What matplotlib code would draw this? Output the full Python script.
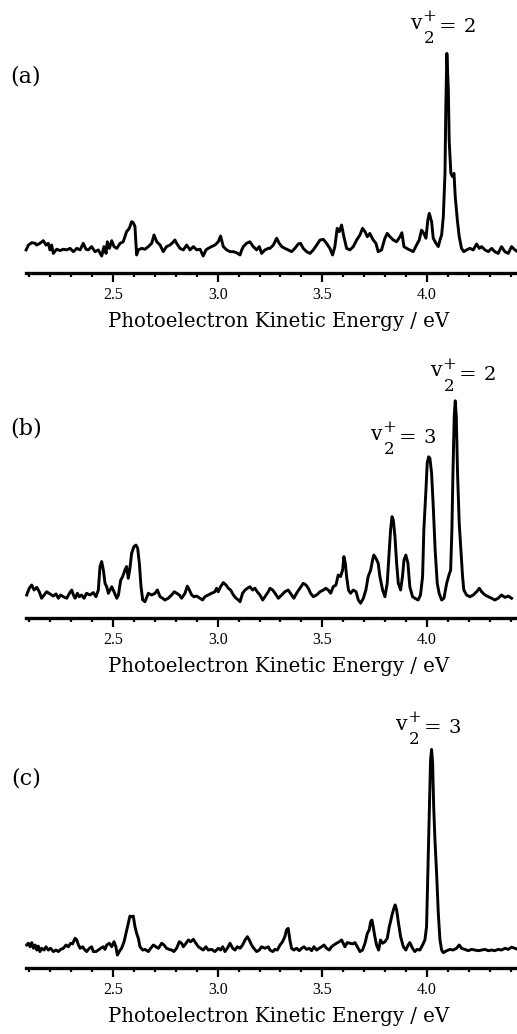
import matplotlib
matplotlib.use("Agg")
import matplotlib.pyplot as plt
from matplotlib.ticker import MultipleLocator

plt.rcParams['font.family'] = ['Liberation Serif', 'DejaVu Serif']

# spectrum (a) - energy (eV) and intensity (arb., peak = 1)
energy_a = [2.085, 2.096, 2.112, 2.128, 2.136, 2.151, 2.167, 2.180, 2.191, 2.199,
            2.207, 2.215, 2.231, 2.247, 2.263, 2.279, 2.295, 2.311, 2.327, 2.343,
            2.358, 2.371, 2.382, 2.398, 2.414, 2.430, 2.446, 2.457, 2.467, 2.473,
            2.483, 2.494, 2.505, 2.518, 2.534, 2.549, 2.557, 2.565, 2.578, 2.589,
            2.597, 2.605, 2.613, 2.621, 2.637, 2.653, 2.669, 2.685, 2.696, 2.709,
            2.725, 2.740, 2.756, 2.772, 2.785, 2.796, 2.804, 2.820, 2.836, 2.852,
            2.868, 2.884, 2.900, 2.916, 2.931, 2.944, 2.955, 2.971, 2.987, 3.003,
            3.014, 3.027, 3.043, 3.059, 3.075, 3.091, 3.107, 3.115, 3.123, 3.138,
            3.154, 3.170, 3.186, 3.199, 3.210, 3.226, 3.242,
            3.250, 3.266, 3.282, 3.294, 3.306, 3.321, 3.337, 3.353, 3.369, 3.385,
            3.396, 3.409, 3.425, 3.441, 3.457, 3.473, 3.489, 3.505, 3.520, 3.536,
            3.549, 3.560, 3.571, 3.581, 3.592, 3.603, 3.616, 3.632, 3.648, 3.664,
            3.680, 3.692, 3.704, 3.715, 3.727, 3.743, 3.756, 3.767, 3.783, 3.799,
            3.810, 3.823, 3.839, 3.855, 3.871, 3.880, 3.890, 3.903, 3.918, 3.934,
            3.950, 3.963, 3.974, 3.985, 3.995, 4.004, 4.011, 4.022, 4.030, 4.043,
            4.054, 4.062, 4.070, 4.078, 4.086, 4.090, 4.095, 4.102, 4.106, 4.114,
            4.122, 4.129, 4.135, 4.145, 4.154, 4.165, 4.176, 4.189, 4.205, 4.221,
            4.237, 4.250, 4.261, 4.277, 4.293, 4.309, 4.324, 4.340, 4.356, 4.372,
            4.388, 4.404, 4.420, 4.433]
signal_a = [0.105, 0.127, 0.138, 0.135, 0.127, 0.135, 0.147, 0.127, 0.135, 0.105,
            0.127, 0.089, 0.108, 0.102, 0.108, 0.105, 0.112, 0.097, 0.112, 0.105,
            0.135, 0.108, 0.105, 0.120, 0.097, 0.105, 0.077, 0.120, 0.089, 0.142,
            0.112, 0.147, 0.120, 0.112, 0.135, 0.142, 0.165, 0.188, 0.203, 0.233,
            0.229, 0.211, 0.082, 0.105, 0.112, 0.108, 0.120, 0.135, 0.173, 0.142,
            0.127, 0.097, 0.120, 0.127, 0.138, 0.150, 0.135, 0.112, 0.105, 0.127,
            0.105, 0.120, 0.105, 0.108, 0.077, 0.105, 0.112, 0.120, 0.127, 0.142,
            0.168, 0.120, 0.105, 0.097, 0.097, 0.092, 0.082, 0.105, 0.120, 0.135,
            0.142, 0.120, 0.105, 0.120, 0.089, 0.105, 0.112,
            0.112, 0.127, 0.158, 0.135, 0.120, 0.112, 0.105, 0.097, 0.112, 0.132,
            0.135, 0.112, 0.097, 0.089, 0.105, 0.127, 0.150, 0.153, 0.135, 0.112,
            0.082, 0.120, 0.203, 0.188, 0.218, 0.165, 0.112, 0.105, 0.120, 0.150,
            0.173, 0.203, 0.188, 0.165, 0.180, 0.150, 0.135, 0.097, 0.105, 0.158,
            0.180, 0.165, 0.150, 0.142, 0.165, 0.183, 0.120, 0.112, 0.105, 0.097,
            0.127, 0.150, 0.195, 0.180, 0.158, 0.241, 0.271, 0.233, 0.158, 0.135,
            0.120, 0.150, 0.173, 0.256, 0.453, 0.756, 0.998, 0.832, 0.604, 0.453,
            0.438, 0.453, 0.347, 0.241, 0.165, 0.112, 0.097, 0.105, 0.112, 0.105,
            0.132, 0.112, 0.120, 0.105, 0.097, 0.112, 0.097, 0.089, 0.120, 0.097,
            0.089, 0.120, 0.105, 0.097]

# spectrum (b)
energy_b = [2.088, 2.100, 2.112, 2.123, 2.136, 2.148, 2.159, 2.171, 2.183, 2.199,
            2.215, 2.228, 2.239, 2.250, 2.263, 2.279, 2.292, 2.303, 2.311, 2.319,
            2.330, 2.339, 2.350, 2.362, 2.374, 2.390, 2.406, 2.419, 2.430, 2.438,
            2.446, 2.454, 2.462, 2.470, 2.478, 2.486, 2.494, 2.505, 2.518, 2.526,
            2.537, 2.546, 2.557, 2.565, 2.573, 2.581, 2.589, 2.600, 2.610, 2.618,
            2.626, 2.634, 2.642, 2.653, 2.669, 2.685, 2.701, 2.712, 2.725, 2.737,
            2.748, 2.764, 2.780, 2.793, 2.804, 2.817, 2.828, 2.844, 2.855, 2.865,
            2.876, 2.887, 2.900, 2.916, 2.928, 2.939, 2.955, 2.971, 2.987, 2.995,
            3.003, 3.014, 3.027, 3.040, 3.051, 3.062, 3.075, 3.088, 3.099, 3.107,
            3.119, 3.131, 3.142, 3.154, 3.167, 3.178, 3.189, 3.202, 3.215, 3.226,
            3.242,
            3.250, 3.263, 3.274, 3.290, 3.306, 3.321, 3.337, 3.353, 3.364, 3.377,
            3.393, 3.409, 3.422, 3.433, 3.444, 3.457, 3.473, 3.489, 3.505, 3.517,
            3.528, 3.540, 3.552, 3.565, 3.576, 3.587, 3.597, 3.603, 3.610, 3.616,
            3.625, 3.635, 3.648, 3.661, 3.672, 3.683, 3.696, 3.708, 3.719, 3.731,
            3.740, 3.746, 3.756, 3.767, 3.775, 3.788, 3.799, 3.810, 3.820, 3.826,
            3.833, 3.839, 3.847, 3.855, 3.863, 3.874, 3.883, 3.890, 3.899, 3.909,
            3.918, 3.931, 3.942, 3.958, 3.969, 3.979, 3.985, 3.995, 4.001, 4.008,
            4.014, 4.022, 4.030, 4.039, 4.049, 4.058, 4.070, 4.081, 4.094, 4.105,
            4.113, 4.119, 4.124, 4.130, 4.135, 4.140, 4.146, 4.154, 4.162, 4.170,
            4.176, 4.189, 4.205, 4.221, 4.237, 4.250, 4.261, 4.277, 4.293, 4.309,
            4.324, 4.340, 4.356, 4.372, 4.388, 4.404]
signal_b = [0.106, 0.137, 0.152, 0.129, 0.141, 0.121, 0.091, 0.106, 0.121, 0.111,
            0.101, 0.111, 0.091, 0.106, 0.098, 0.091, 0.114, 0.129, 0.106, 0.091,
            0.114, 0.098, 0.106, 0.091, 0.114, 0.106, 0.117, 0.098, 0.129, 0.237,
            0.260, 0.221, 0.160, 0.144, 0.114, 0.129, 0.144, 0.121, 0.091, 0.106,
            0.175, 0.190, 0.221, 0.237, 0.183, 0.229, 0.298, 0.329, 0.336, 0.321,
            0.252, 0.144, 0.083, 0.075, 0.114, 0.106, 0.114, 0.129, 0.098, 0.091,
            0.083, 0.091, 0.106, 0.121, 0.114, 0.106, 0.091, 0.114, 0.147, 0.129,
            0.106, 0.098, 0.101, 0.091, 0.083, 0.098, 0.106, 0.114, 0.121, 0.137,
            0.121, 0.144, 0.163, 0.152, 0.137, 0.129, 0.106, 0.091, 0.083, 0.075,
            0.114, 0.129, 0.137, 0.144, 0.129, 0.137, 0.121, 0.106, 0.083, 0.098,
            0.121,
            0.137, 0.129, 0.114, 0.091, 0.106, 0.121, 0.129, 0.106, 0.091, 0.114,
            0.137, 0.160, 0.152, 0.137, 0.114, 0.098, 0.106, 0.121, 0.129, 0.137,
            0.129, 0.114, 0.144, 0.152, 0.198, 0.191, 0.221, 0.283, 0.252, 0.191,
            0.129, 0.114, 0.129, 0.121, 0.083, 0.068, 0.091, 0.129, 0.191, 0.221,
            0.267, 0.290, 0.275, 0.252, 0.191, 0.129, 0.098, 0.160, 0.313, 0.406,
            0.467, 0.452, 0.375, 0.252, 0.160, 0.129, 0.191, 0.267, 0.290, 0.252,
            0.144, 0.098, 0.091, 0.083, 0.106, 0.191, 0.406, 0.590, 0.713, 0.743,
            0.736, 0.667, 0.513, 0.313, 0.160, 0.114, 0.083, 0.091, 0.160, 0.198,
            0.221, 0.406, 0.667, 0.928, 1.001, 0.928, 0.667, 0.436, 0.313, 0.191,
            0.129, 0.106, 0.098, 0.106, 0.121, 0.137, 0.121, 0.106, 0.098, 0.091,
            0.083, 0.091, 0.106, 0.095, 0.101, 0.091]

# spectrum (c)
energy_c = [2.088, 2.096, 2.104, 2.112, 2.120, 2.128, 2.136, 2.143, 2.151, 2.159,
            2.171, 2.180, 2.191, 2.202, 2.215, 2.228, 2.239, 2.250, 2.263, 2.276,
            2.287, 2.298, 2.307, 2.319, 2.327, 2.335, 2.343, 2.355, 2.366, 2.374,
            2.387, 2.398, 2.406, 2.419, 2.430, 2.441, 2.454, 2.462, 2.470, 2.483,
            2.494, 2.505, 2.514, 2.521, 2.530, 2.541, 2.553, 2.562, 2.573, 2.581,
            2.589, 2.597, 2.605, 2.613, 2.621, 2.629, 2.642, 2.653, 2.669, 2.680,
            2.693, 2.705, 2.717, 2.733, 2.744, 2.756, 2.769, 2.780, 2.791, 2.804,
            2.817, 2.828, 2.836, 2.849, 2.860, 2.871, 2.884, 2.896, 2.908, 2.919,
            2.931, 2.944, 2.955, 2.971, 2.987, 3.003, 3.014, 3.024, 3.035, 3.046,
            3.059, 3.072, 3.083, 3.094, 3.107, 3.119, 3.131, 3.142, 3.151, 3.162,
            3.173, 3.186, 3.199, 3.210, 3.226, 3.242,
            3.250, 3.263, 3.274, 3.285, 3.298, 3.310, 3.321, 3.329, 3.337, 3.345,
            3.353, 3.364, 3.377, 3.390, 3.401, 3.412, 3.425, 3.438, 3.449, 3.460,
            3.473, 3.485, 3.497, 3.508, 3.520, 3.533, 3.544, 3.555, 3.568, 3.581,
            3.592, 3.600, 3.608, 3.619, 3.632, 3.645, 3.656, 3.667, 3.680, 3.692,
            3.704, 3.715, 3.724, 3.731, 3.737, 3.743, 3.751, 3.759, 3.769, 3.778,
            3.788, 3.799, 3.810, 3.820, 3.826, 3.833, 3.842, 3.848, 3.855, 3.864,
            3.874, 3.887, 3.899, 3.910, 3.918, 3.931, 3.942, 3.953, 3.966, 3.979,
            3.990, 3.998, 4.004, 4.011, 4.017, 4.022, 4.027, 4.032, 4.038, 4.046,
            4.054, 4.062, 4.070, 4.078, 4.094, 4.110, 4.125, 4.141, 4.154, 4.165,
            4.181, 4.197, 4.213, 4.229, 4.245, 4.261, 4.277, 4.293, 4.309, 4.324,
            4.340, 4.356, 4.372, 4.388, 4.404, 4.420, 4.433]
signal_c = [0.105, 0.113, 0.097, 0.116, 0.090, 0.105, 0.082, 0.100, 0.075, 0.090,
            0.082, 0.097, 0.082, 0.090, 0.075, 0.082, 0.075, 0.085, 0.090, 0.105,
            0.097, 0.113, 0.110, 0.136, 0.128, 0.105, 0.090, 0.097, 0.082, 0.075,
            0.090, 0.097, 0.075, 0.075, 0.082, 0.090, 0.097, 0.085, 0.105, 0.113,
            0.097, 0.120, 0.097, 0.059, 0.075, 0.090, 0.120, 0.158, 0.204, 0.237,
            0.234, 0.237, 0.189, 0.158, 0.136, 0.097, 0.082, 0.085, 0.075, 0.090,
            0.105, 0.097, 0.090, 0.113, 0.105, 0.090, 0.085, 0.082, 0.075, 0.090,
            0.120, 0.113, 0.097, 0.113, 0.128, 0.120, 0.131, 0.113, 0.097, 0.090,
            0.082, 0.097, 0.082, 0.085, 0.075, 0.090, 0.082, 0.097, 0.075, 0.090,
            0.113, 0.090, 0.082, 0.097, 0.090, 0.105, 0.128, 0.143, 0.128, 0.105,
            0.090, 0.075, 0.082, 0.097, 0.090, 0.097,
            0.082, 0.075, 0.085, 0.082, 0.105, 0.120, 0.143, 0.174, 0.181, 0.128,
            0.090, 0.082, 0.090, 0.079, 0.090, 0.097, 0.085, 0.090, 0.079, 0.097,
            0.082, 0.090, 0.097, 0.105, 0.090, 0.082, 0.097, 0.105, 0.113, 0.120,
            0.128, 0.113, 0.097, 0.116, 0.113, 0.110, 0.116, 0.097, 0.075, 0.082,
            0.113, 0.158, 0.174, 0.212, 0.219, 0.189, 0.143, 0.105, 0.082, 0.128,
            0.113, 0.120, 0.135, 0.189, 0.212, 0.242, 0.273, 0.288, 0.265, 0.204,
            0.143, 0.097, 0.082, 0.105, 0.116, 0.090, 0.075, 0.085, 0.082, 0.105,
            0.128, 0.189, 0.432, 0.737, 0.950, 0.998, 0.935, 0.737, 0.585, 0.432,
            0.250, 0.128, 0.082, 0.070, 0.079, 0.085, 0.082, 0.090, 0.105, 0.090,
            0.085, 0.079, 0.085, 0.082, 0.079, 0.082, 0.085, 0.079, 0.082, 0.079,
            0.085, 0.082, 0.090, 0.085, 0.095, 0.090, 0.085]

panel_tags = ['(a)', '(b)', '(c)']
# peak labels: (energy of the level digit, baseline intensity, level)
peak_labels = [
    [(4.205, 1.095, '2')],
    [(4.300, 1.097, '2'), (4.014, 0.806, '3')],
    [(4.133, 1.073, '3')],
]

W, H = 517, 1034
fig = plt.figure(figsize=(W / 100, H / 100), dpi=100)

# (bottom px, height px) of each axes
boxes = [(273, 220), (618, 217), (968, 219)]
tag_y = [77, 428, 778]
traces = [(energy_a, signal_a), (energy_b, signal_b), (energy_c, signal_c)]
wide = ['DejaVu Serif']


def level_label(ax, ex, iy, lv):
    # v, subscript 2, superscript +, "=" and level number, placed around the digit
    pieces = [('v', -38.5, 2.5, 14.5), ('2', -29.5, -8.0, 12),
              ('+', -29.0, 8.0, 12), ('=', -16.0, 0.0, 15), (lv, 0.0, 0.0, 14)]
    for txt, dx, dy, fs in pieces:
        ax.annotate(txt, xy=(ex, iy), xytext=(dx, dy), textcoords='offset points',
                    ha='center', va='baseline', fontsize=fs, family=wide,
                    annotation_clip=False)


for i in range(3):
    bot, hgt = boxes[i]
    ax = fig.add_axes([26 / W, 1 - bot / H, 1 - 26 / W, hgt / H])
    x, y = traces[i]
    ax.plot(x, y, color='black', lw=2.1, clip_on=False, solid_joinstyle='round')
    ax.set_xlim(2.0845, 4.43)
    ax.set_ylim(0, 1)
    for s in ['top', 'left', 'right']:
        ax.spines[s].set_visible(False)
    ax.spines['bottom'].set_linewidth(2.4)
    ax.set_yticks([])
    ax.xaxis.set_major_locator(MultipleLocator(0.5))
    ax.xaxis.set_minor_locator(MultipleLocator(0.1))
    ax.tick_params(axis='x', which='major', direction='out', length=6.3, width=1.6,
                   pad=3.5, labelsize=11.5)
    ax.tick_params(axis='x', which='minor', direction='out', length=3.2, width=1.6)
    ax.set_xlabel('Photoelectron Kinetic Energy / eV', fontsize=14.2, family=wide)
    ax.xaxis.set_label_coords((279 - 26) / (W - 26), -39 / hgt)
    for (ex, iy, lv) in peak_labels[i]:
        level_label(ax, ex, iy, lv)
    fig.text(26 / W, 1 - tag_y[i] / H, panel_tags[i], ha='center', va='center',
             fontsize=16, family=wide)

fig.savefig('out.png', dpi=100)
